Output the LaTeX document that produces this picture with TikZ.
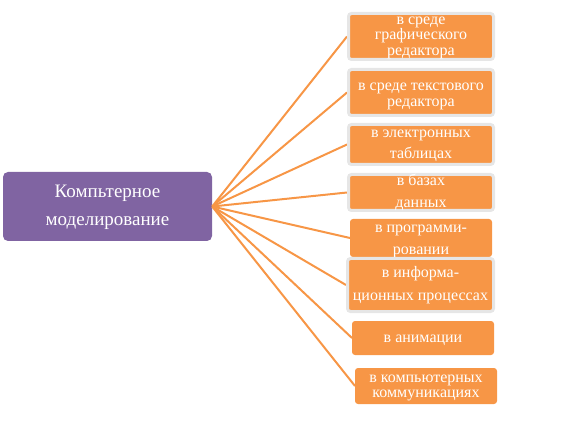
\documentclass[tikz,border=0pt]{standalone}
\usepackage{fontspec}
\setmainfont{Liberation Serif}
\definecolor{mpurple}{HTML}{8064A2}
\definecolor{morange}{HTML}{F79646}
\definecolor{mgray}{HTML}{E6E6E6}
\begin{document}
\begin{tikzpicture}[x=1pt,y=-1pt,
  mainbox/.style={fill=mpurple,rounded corners=5pt,inner sep=0pt,minimum width=209pt,minimum height=69pt},
  obox/.style={fill=morange,rounded corners=3pt,inner sep=0pt,draw=mgray,line width=3pt},
  pbox/.style={fill=morange,rounded corners=3pt,inner sep=0pt},
  lbl/.style={text=white,align=center,inner sep=0pt,anchor=north},
  conn/.style={draw=morange,line width=2pt}]
\useasboundingbox (0,0) rectangle (571,425);
\node[mainbox] (main) at (107.5,206.5) {};
\node[lbl,font=\fontsize{19}{28}\selectfont] (mt) at (107.5,181) {\rule{0pt}{16pt}Компьтерное\\моделирование};
% connector end points on the left edges of the boxes
\coordinate (c1) at (347,36.5);
\coordinate (c2) at (347,92.5);
\coordinate (c3) at (347,144.5);
\coordinate (c4) at (347,192.5);
\coordinate (c5) at (350,238);
\coordinate (c6) at (346,285);
\coordinate (c7) at (352,338);
\coordinate (c8) at (355,386);
\foreach \i in {1,...,8}{\draw[conn] (main.east) -- (c\i);}
\node[obox,minimum width=145pt,minimum height=46pt] (b1) at (421,36.5) {};
\node[lbl,font=\fontsize{16}{15.5}\selectfont] (t1) at (421,11) {\rule{0pt}{13pt}в среде\\графического\\редактора};
\node[obox,minimum width=145pt,minimum height=46pt] (b2) at (421,92.5) {};
\node[lbl,font=\fontsize{16}{16}\selectfont] (t2) at (421,77) {\rule{0pt}{13pt}в среде текстового\\редактора};
\node[obox,minimum width=145pt,minimum height=40pt] (b3) at (421,144.5) {};
\node[lbl,font=\fontsize{16}{21}\selectfont] (t3) at (421,124) {\rule{0pt}{13pt}в электронных\\таблицах};
\node[obox,minimum width=145pt,minimum height=36pt] (b4) at (421,192.5) {};
\node[lbl,font=\fontsize{16}{22}\selectfont] (t4) at (421,172) {\rule{0pt}{13pt}в базах\\данных};
\node[pbox,minimum width=142pt,minimum height=38pt] (b5) at (421,238) {};
\node[lbl,font=\fontsize{16}{22}\selectfont] (t5) at (421,219) {\rule{0pt}{13pt}в программи-\\ровании};
\node[obox,minimum width=146pt,minimum height=53pt] (b6) at (420.5,285) {};
\node[lbl,font=\fontsize{16}{23}\selectfont] (t6) at (420.5,264) {\rule{0pt}{13pt}в информа-\\ционных процессах};
\node[pbox,minimum width=142pt,minimum height=34pt] (b7) at (423,338) {};
\node[lbl,font=\fontsize{16}{16}\selectfont] (t7) at (423,329) {\rule{0pt}{13pt}в анимации};
\node[pbox,minimum width=142pt,minimum height=36pt] (b8) at (426,386) {};
\node[lbl,font=\fontsize{16}{15}\selectfont] (t8) at (426,369) {\rule{0pt}{13pt}в компьютерных\\коммуникациях};
\end{tikzpicture}
\end{document}
